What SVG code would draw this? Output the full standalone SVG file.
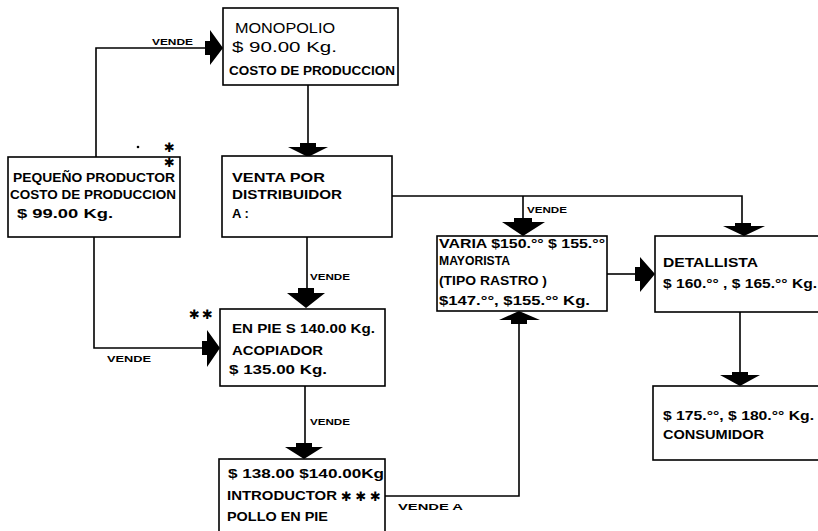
<svg xmlns="http://www.w3.org/2000/svg" width="818" height="531" viewBox="0 0 818 531">
<style>
.box{fill:#fff;stroke:#000;stroke-width:1.6}
.ln{fill:none;stroke:#000;stroke-width:1.6}
.ah{fill:#000;stroke:none}
.t{font-family:"Liberation Sans",Arial,sans-serif;font-weight:bold;font-size:13px;fill:#000}
.tl{font-family:"Liberation Sans",Arial,sans-serif;font-weight:normal;font-size:15px;fill:#000}
.lb{font-family:"Liberation Sans",Arial,sans-serif;font-weight:bold;font-size:9px;fill:#000}
.st{font-family:"DejaVu Sans",sans-serif;font-size:13px;fill:#000}
</style>
<rect width="818" height="531" fill="#fff"/>
<g id="connectors">
<polyline class="ln" points="96,157 96,48 206,48"/>
<polygon class="ah" points="205,41 210,41 210,30 223,48 210,65 210,55 205,55"/>
<text class="lb" x="152" y="45" textLength="41" lengthAdjust="spacingAndGlyphs">VENDE</text>
<line class="ln" x1="308" y1="85" x2="308" y2="145"/>
<polygon class="ah" points="300,143 316,143 316,147 328,147 308,157 288,147 300,147"/>
<polyline class="ln" points="392,196 742,196 742,224"/>
<line class="ln" x1="523" y1="196" x2="523" y2="219"/>
<text class="lb" x="527" y="213" textLength="40" lengthAdjust="spacingAndGlyphs">VENDE</text>
<polygon class="ah" points="514,218 532,218 532,222 545,222 523,236 502,222 514,222"/>
<polygon class="ah" points="735,223 751,223 751,226 765,226 744,236 723,226 735,226"/>
<line class="ln" x1="307" y1="237" x2="307" y2="290"/>
<text class="lb" x="310" y="280" textLength="40" lengthAdjust="spacingAndGlyphs">VENDE</text>
<polygon class="ah" points="298,288 314,288 314,293 325,293 306,308 287,293 298,293"/>
<polyline class="ln" points="94,237 94,348 203,348"/>
<text class="lb" x="107" y="362" textLength="44" lengthAdjust="spacingAndGlyphs">VENDE</text>
<polygon class="ah" points="202,341 207,341 207,330 220,348 207,367 207,355 202,355"/>
<line class="ln" x1="305" y1="386" x2="305" y2="445"/>
<text class="lb" x="310" y="425" textLength="40" lengthAdjust="spacingAndGlyphs">VENDE</text>
<polygon class="ah" points="296,443 312,443 312,447 323,447 304,459 285,447 296,447"/>
<polyline class="ln" points="385,496 519,496 519,322"/>
<text class="lb" x="398" y="510" textLength="65" lengthAdjust="spacingAndGlyphs">VENDE   A</text>
<polygon class="ah" points="511,324 527,324 527,320 540,320 519,311 499,320 511,320"/>
<line class="ln" x1="607" y1="274" x2="636" y2="274"/>
<polygon class="ah" points="635,267 640,267 640,257 655,274 640,292 640,281 635,281"/>
<line class="ln" x1="740" y1="312" x2="740" y2="374"/>
<polygon class="ah" points="732,372 748,372 748,375 760,375 740,386 720,375 732,375"/>
</g>
<g id="monopolio">
<rect class="box" x="223" y="8" width="175" height="77"/>
<text class="tl" x="235" y="33" textLength="100" lengthAdjust="spacingAndGlyphs">MONOPOLIO</text>
<text class="tl" x="232" y="52" textLength="105" lengthAdjust="spacingAndGlyphs">$ 90.00 Kg.</text>
<text class="t" x="229" y="75" textLength="166" lengthAdjust="spacingAndGlyphs">COSTO DE PRODUCCION</text>
</g>
<g id="pequeno">
<rect class="box" x="8" y="157" width="172" height="80"/>
<text class="t" x="13" y="182" textLength="162" lengthAdjust="spacingAndGlyphs">PEQUEÑO PRODUCTOR</text>
<text class="t" x="10" y="199" textLength="166" lengthAdjust="spacingAndGlyphs">COSTO DE PRODUCCION</text>
<text class="t" x="17" y="218" textLength="96" lengthAdjust="spacingAndGlyphs">$ 99.00 Kg.</text>
<text class="st"><tspan x="164" y="152">✱</tspan><tspan x="164" y="167">✱</tspan></text>
<circle cx="138" cy="147" r="1.3" fill="#000"/>
</g>
<g id="venta">
<rect class="box" x="222" y="156" width="170" height="81"/>
<text class="t" x="232" y="182" textLength="93" lengthAdjust="spacingAndGlyphs">VENTA  POR</text>
<text class="t" x="232" y="199" textLength="110" lengthAdjust="spacingAndGlyphs">DISTRIBUIDOR</text>
<text class="t" x="232" y="218">A :</text>
</g>
<g id="acopiador">
<rect class="box" x="220" y="309" width="165" height="77"/>
<text class="st" x="189" y="319" textLength="24" lengthAdjust="spacing">✱✱</text>
<text class="t" x="232" y="333" textLength="143" lengthAdjust="spacingAndGlyphs">EN PIE S 140.00 Kg.</text>
<text class="t" x="232" y="355" textLength="91" lengthAdjust="spacingAndGlyphs">ACOPIADOR</text>
<text class="t" x="229" y="374" textLength="98" lengthAdjust="spacingAndGlyphs">$ 135.00 Kg.</text>
</g>
<g id="introductor">
<rect class="box" x="219" y="459" width="166" height="85"/>
<text class="t" x="228" y="478" textLength="156" lengthAdjust="spacingAndGlyphs">$ 138.00  $140.00Kg</text>
<text class="t" x="227" y="500" textLength="110" lengthAdjust="spacingAndGlyphs">INTRODUCTOR</text>
<text class="st" x="341" y="501" textLength="40" lengthAdjust="spacing">✱✱✱</text>
<text class="t" x="227" y="521" textLength="101" lengthAdjust="spacingAndGlyphs">POLLO  EN  PIE</text>
</g>
<g id="mayorista">
<rect class="box" x="437" y="236" width="170" height="75"/>
<text class="t" x="439" y="248" textLength="166" lengthAdjust="spacingAndGlyphs">VARIA $150.°° $ 155.°°</text>
<text class="t" x="439" y="265" textLength="71" lengthAdjust="spacingAndGlyphs">MAYORISTA</text>
<text class="t" x="439" y="285" textLength="108" lengthAdjust="spacingAndGlyphs">(TIPO RASTRO )</text>
<text class="t" x="439" y="305" textLength="151" lengthAdjust="spacingAndGlyphs">$147.°°, $155.°° Kg.</text>
</g>
<g id="detallista">
<rect class="box" x="655" y="236" width="180" height="76"/>
<text class="t" x="663" y="267" textLength="95" lengthAdjust="spacingAndGlyphs">DETALLISTA</text>
<text class="t" x="663" y="288" textLength="154" lengthAdjust="spacingAndGlyphs">$ 160.°° , $ 165.°° Kg.</text>
</g>
<g id="consumidor">
<rect class="box" x="653" y="386" width="182" height="74"/>
<text class="t" x="663" y="420" textLength="151" lengthAdjust="spacingAndGlyphs">$ 175.°°, $ 180.°° Kg.</text>
<text class="t" x="663" y="439" textLength="101" lengthAdjust="spacingAndGlyphs">CONSUMIDOR</text>
</g>
</svg>
